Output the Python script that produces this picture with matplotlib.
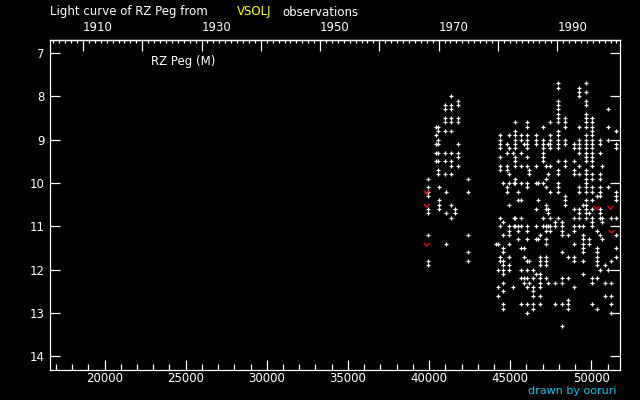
import numpy as np
import matplotlib
matplotlib.use("Agg")
import matplotlib.pyplot as plt
from matplotlib.path import Path
from matplotlib.ticker import MultipleLocator, FixedLocator, FuncFormatter

# observing seasons: JD - 2400000 and the visual magnitudes read in that season
season_jd = [39931, 40442, 40565, 40627, 40978, 41040, 41348, 41594, 41778, 42395,
             44120, 44243, 44367, 44551, 44798, 44921, 45167, 45230, 45291, 45475,
             45660, 45845, 46030, 46153, 46400, 46584, 46710, 46831, 47016, 47201,
             47340, 47447, 47755, 47940, 48186, 48371, 48556, 48926, 49265, 49480,
             49665, 49850, 50035, 50343, 50528, 50651, 50836, 51020, 51205, 51513]
season_mags = [
    [9.9, 10.1, 10.2, 10.3, 10.6, 10.7, 11.2, 11.8, 11.9],
    [8.7, 8.9, 9.1, 9.3, 9.5],
    [8.7, 8.8, 9.0, 9.1, 9.3, 9.5, 9.7, 9.8],
    [10.1, 10.4, 10.5, 10.6],
    [8.2, 8.3, 8.5, 8.6, 8.8, 9.3, 9.5, 9.8],
    [10.2, 10.7, 11.4],
    [8.0, 8.2, 8.3, 8.5, 8.6, 8.8, 9.3, 9.5, 9.6, 9.8, 10.5, 10.8],
    [10.6, 10.7],
    [8.1, 8.2, 8.5, 8.6, 9.1, 9.3, 9.4, 9.6],
    [9.9, 10.2, 11.2, 11.6, 11.8],
    [11.4],
    [11.4, 12.0, 12.4, 12.6],
    [8.9, 9.0, 9.1, 9.2, 9.4, 9.6, 9.7, 10.8, 11.0, 11.7, 11.8],
    [10.0, 10.9, 11.2, 11.5, 11.6, 11.8, 11.9, 12.0, 12.1, 12.3, 12.5, 12.8, 12.9],
    [9.1, 9.3, 9.6, 9.7, 10.1, 10.2],
    [8.9, 9.2, 9.8, 10.0, 10.5, 11.0, 11.1, 11.2, 11.4, 11.7, 11.9, 12.0],
    [9.3, 12.4],
    [10.0, 10.8, 11.0],
    [8.6, 8.8, 8.9, 9.0, 9.1, 9.2, 9.4, 9.5, 9.6, 9.9, 10.0, 10.8, 11.0],
    [10.2, 10.4, 11.0, 11.1, 11.3],
    [8.9, 9.0, 9.3, 9.6, 10.0, 10.4, 10.8, 11.0, 11.5, 12.0, 12.2, 12.8],
    [9.1, 11.5, 11.7, 12.2, 12.3],
    [8.6, 8.7, 8.9, 9.0, 9.1, 9.2, 9.4, 9.6, 10.0, 10.1, 11.0, 11.1, 11.3, 11.8, 12.0, 12.2, 12.4, 12.8, 13.0],
    [9.7, 9.8, 11.8, 12.3],
    [12.0, 12.2, 12.4, 12.5, 12.6, 12.8, 12.9],
    [8.9, 9.0, 9.1, 9.6, 10.0, 10.6, 11.0, 11.3, 12.1],
    [10.0, 10.4, 11.3],
    [11.2, 11.7, 11.8, 11.9, 12.1, 12.2, 12.3, 12.4, 12.6, 12.8],
    [8.7, 9.0, 9.1, 9.2, 9.3, 9.4, 9.5, 10.0, 10.8, 11.0],
    [9.6, 9.9, 10.1, 10.5, 10.6, 11.0, 11.1, 11.3, 11.4, 11.7, 11.8, 11.9, 12.2],
    [9.1, 9.8, 10.6, 10.7, 11.0, 12.3],
    [8.6, 8.9, 9.0, 9.1, 9.2, 9.6, 10.2, 10.8, 11.0, 11.1],
    [10.9, 11.0, 12.3, 12.8],
    [7.7, 7.8, 8.1, 8.2, 8.3, 8.4, 8.5, 8.6, 8.8, 8.9, 9.0, 9.1, 9.2, 9.5, 9.7, 9.8, 10.0, 10.1, 10.2, 10.8],
    [10.9, 11.0, 11.1, 11.2, 11.6, 12.2, 12.3, 12.8, 13.3],
    [8.5, 8.6, 8.7, 9.0, 9.1, 9.5, 9.6, 10.3, 10.4, 10.5],
    [11.2, 11.7, 12.2, 12.7, 12.8, 12.9],
    [9.1, 9.2, 9.5, 9.7, 9.8, 10.6, 10.8, 11.0, 11.1, 11.4, 11.7, 11.8, 12.4],
    [7.8, 7.9, 8.0, 8.7, 9.0, 9.1, 9.2, 9.3, 9.6, 9.8, 10.1, 10.2, 10.6, 10.7, 10.8, 11.0],
    [10.5, 11.0, 11.2, 11.3, 11.4, 11.5, 11.6, 11.8, 12.1],
    [7.7, 7.9, 8.1, 8.2, 8.4, 8.5, 8.6, 8.7, 8.9, 9.0, 9.1, 9.2, 9.3, 9.4, 9.5, 9.7, 9.8, 9.9, 10.0, 10.1, 10.2, 10.4, 10.5, 10.6, 10.7, 10.8],
    [10.7, 11.3, 11.4],
    [8.5, 8.6, 8.7, 8.8, 8.9, 9.0, 9.1, 9.2, 9.3, 9.4, 9.5, 9.6, 9.8, 9.9, 10.1, 10.2, 10.4, 10.6, 10.8, 10.9, 11.0, 12.2, 12.3, 12.8],
    [10.3, 11.1, 11.5, 11.6, 11.7, 11.8, 11.9, 12.2, 12.9],
    [9.0, 9.1, 9.3, 9.8, 9.9, 10.1, 10.2, 10.3, 10.6, 10.7, 10.8, 11.2, 12.0],
    [9.6, 10.8, 10.9, 11.3],
    [11.9, 12.3, 12.6],
    [8.3, 8.7, 9.0, 10.1, 12.0],
    [10.8, 11.8, 12.3, 12.6, 12.8, 13.0],
    [8.8, 9.1, 9.2, 10.2, 10.3, 10.4, 10.8, 11.2, 11.5, 11.7],
]

# "fainter than" estimates (red marks)
limit_jd = [39808, 39808, 39808, 50281, 51144, 51205]
limit_mag = [10.2, 10.5, 11.4, 10.55, 10.55, 11.1]

year_ticks = list(range(1910, 1991, 10))
year_labels = [1910, 1930, 1950, 1970, 1990]

jd = np.concatenate([[d] * len(m) for d, m in zip(season_jd, season_mags)])
mag = np.concatenate(season_mags)

fig = plt.figure(figsize=(6.4, 4.0), dpi=100, facecolor="black")
ax = fig.add_axes([50 / 640, 30 / 400, 570 / 640, 330 / 400], facecolor="black")

ax.plot(jd, mag, "+", color="white", ms=3.2, mew=0.9, linestyle="none")

vmark = Path([(-1, 0.6), (0, -0.6), (1, 0.6)], [Path.MOVETO, Path.LINETO, Path.LINETO])
ax.plot(limit_jd, limit_mag, marker=vmark, color="red", mfc="none", ms=4, mew=0.9,
        linestyle="none")

ax.set_xlim(16642, 51762)
ax.set_ylim(14.32, 6.7)

for s in ax.spines.values():
    s.set_color("white")
    s.set_linewidth(0.9)

ax.xaxis.set_major_locator(MultipleLocator(5000))
ax.xaxis.set_minor_locator(MultipleLocator(1000))
ax.yaxis.set_major_locator(MultipleLocator(1))
ax.tick_params(axis="x", which="major", direction="in", length=7.2, width=0.9,
               colors="white", labelsize=8.5, pad=1.5)
ax.tick_params(axis="x", which="minor", direction="in", length=4, width=0.9, colors="white")
ax.tick_params(axis="y", which="major", direction="in", length=7.5, width=0.9,
               colors="white", labelsize=8.5, pad=4, right=True)


def jd_to_year(x):
    return 2000 + (np.asarray(x) - 51544.5) / 365.25


def year_to_jd(y):
    return 51544.5 + (np.asarray(y) - 2000) * 365.25


top = ax.secondary_xaxis("top", functions=(jd_to_year, year_to_jd))
top.spines["top"].set_color("white")
top.spines["top"].set_linewidth(0.9)
top.xaxis.set_major_locator(FixedLocator(year_ticks))
top.xaxis.set_minor_locator(MultipleLocator(1))
top.xaxis.set_major_formatter(FuncFormatter(lambda v, p: str(int(round(v))) if int(round(v)) in year_labels else ""))
top.tick_params(axis="x", which="major", direction="in", length=8, width=0.9,
                colors="white", labelsize=8.5, pad=4)
top.tick_params(axis="x", which="minor", direction="in", length=2.4, width=0.9, colors="white")
for lab in top.get_xticklabels():
    lab.set_horizontalalignment("left")

ax.text(0.177, 0.936, "RZ Peg (M)", color="white", fontsize=8.5, transform=ax.transAxes,
        ha="left", va="center")

fig.text(50 / 640, 1 - 12 / 400, "Light curve of RZ Peg from", color="white", fontsize=8.5,
         ha="left", va="center")
fig.text(237 / 640, 1 - 12 / 400, "VSOLJ", color="yellow", fontsize=8.5, ha="left", va="center")
fig.text(282 / 640, 1 - 12 / 400, "observations", color="white", fontsize=8.5, ha="left",
         va="center")
fig.text(617 / 640, 1 - 391 / 400, "drawn by ooruri", color="#00c8f0", fontsize=8,
         ha="right", va="center")

fig.savefig("out.png", dpi=100, facecolor="black")
